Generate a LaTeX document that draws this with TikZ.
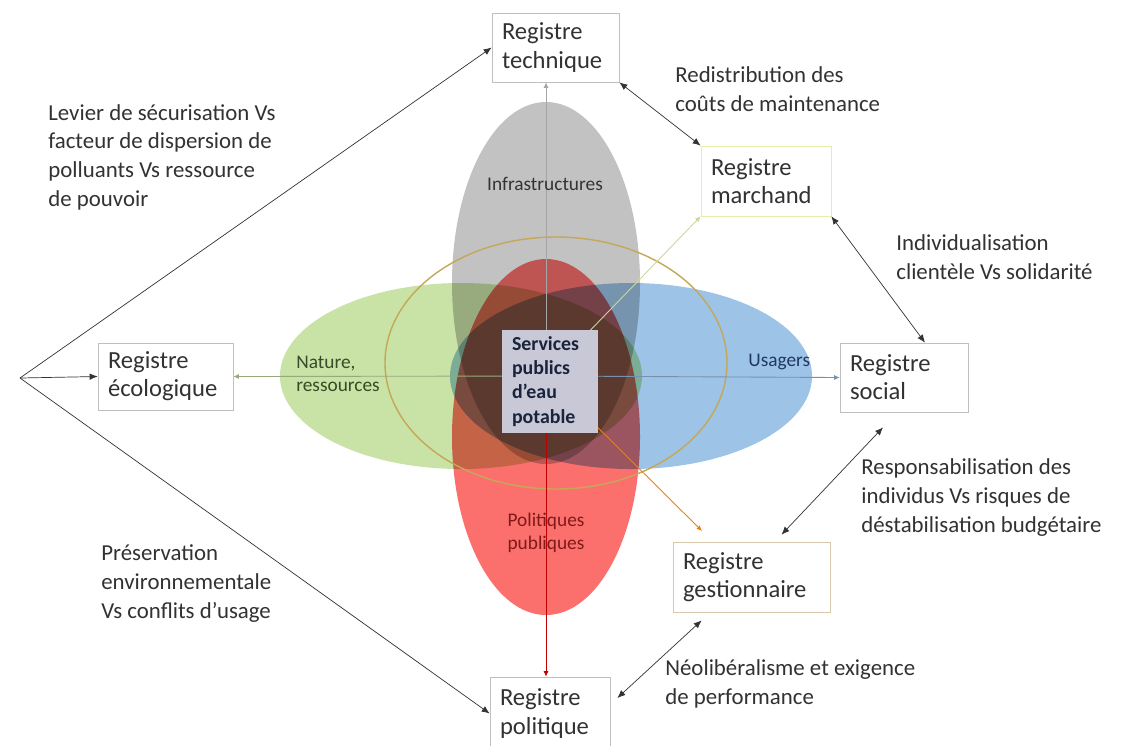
\documentclass[tikz,border=0pt]{standalone}
\usepackage{fontspec}
\setmainfont{Carlito}
\usetikzlibrary{arrows.meta}

\definecolor{infra}{RGB}{194,194,194}
\definecolor{natur}{RGB}{201,226,166}
\definecolor{usag}{RGB}{157,195,230}
\definecolor{polit}{RGB}{251,112,108}
\definecolor{cercle}{RGB}{196,168,88}
\definecolor{txt}{RGB}{50,50,50}
\definecolor{serv}{RGB}{200,200,214}
\definecolor{servtxt}{RGB}{25,35,60}
\definecolor{march}{RGB}{226,240,170}
\definecolor{gest}{RGB}{214,200,170}

\begin{document}
\begin{tikzpicture}[x=0.02cm, y=-0.02cm,
  reg/.style={draw=black!25, fill=white, rectangle, inner xsep=0.2cm, inner ysep=0pt, text=txt, font=\fontsize{14}{16}\selectfont, align=left},
  note/.style={anchor=base west, inner sep=0pt, text=txt, font=\fontsize{13}{16.3}\selectfont, align=left},
  lab/.style={inner sep=0pt, font=\fontsize{11}{13}\selectfont},
  fl/.style={-{Latex[length=1.6mm,width=1.3mm]}, black!80},
  dfl/.style={{Latex[length=1.6mm,width=1.3mm]}-{Latex[length=1.6mm,width=1.3mm]}, black!80},
  pt/.style={-{Latex[length=1.1mm,width=1mm]}, line width=0.5pt}]
	\clip (0,0) rectangle (1124,745);
	\fill[white] (0,0) rectangle (1124,745);
	% les quatre ellipses
	\begin{scope}[blend group=multiply]
	\fill[infra] (546,283) ellipse [x radius=94, y radius=181];
	\fill[natur] (461,376) ellipse [x radius=181, y radius=93];
	\fill[usag] (631,376) ellipse [x radius=181, y radius=93];
	\fill[polit] (546,437) ellipse [x radius=94, y radius=178];
	\end{scope}
	\draw[cercle, line width=0.8pt] (556,363) ellipse [x radius=171, y radius=126];

	\node[reg, text width=2.14cm, minimum height=1.38cm] (tech) at (555.5,47.5) {Registre\\technique};
	\node[reg, draw=march, text width=2.2cm, minimum height=1.4cm] (march) at (766,181) {Registre\\marchand};
	\node[reg, text width=2.3cm, minimum height=1.34cm] (eco) at (165.5,376.5) {Registre\\écologique};
	\node[reg, text width=2.16cm, minimum height=1.38cm] (soc) at (904,377.5) {Registre\\social};
	\node[reg, draw=gest, text width=2.74cm, minimum height=1.4cm] (gest) at (751.5,577) {Registre\\gestionnaire};
	\node[reg, text width=2cm, minimum height=1.46cm] (pol) at (550,713.5) {Registre\\politique};

	% fleches depuis le centre
	\coordinate (c0) at (546,376);
	\coordinate (gtip) at (702,531);
	\draw[pt, black!35] (c0) -- (c0 |- tech.south);
	\draw[pt, red!75!black] (c0) -- (c0 |- pol.north);
	\draw[pt, natur!75!black] (c0) -- (eco.east);
	\draw[pt, usag!75!black] (c0) -- (soc.west);
	\draw[pt, march!90!black] (c0) -- (march.south west);
	\draw[pt, orange!70!brown] (c0) -- (gtip);

	\node[fill=serv, inner xsep=0.2cm, inner ysep=0pt, text width=1.52cm, minimum height=2.06cm, text=servtxt, font=\bfseries\fontsize{11.3}{13.7}\selectfont, align=left] (ctr) at (550,381.5) {Services\\publics\\d’eau\\potable};

	\node[lab, text=black!80] (linfra) at (545,184) {Infrastructures};
	\node[lab, anchor=west, align=left, text={rgb,255:red,56;green,74;blue,40}] (lnat) at (296,374) {Nature,\\ressources};
	\node[lab, anchor=west, text={rgb,255:red,32;green,56;blue,100}] (lusag) at (748,362) {Usagers};
	\node[lab, align=center, text={rgb,255:red,127;green,26;blue,26}] (lpol) at (546,533) {Politiques\\publiques};

	% eventail a gauche
	\coordinate (fan) at (20,378);
	\draw[fl] (fan) -- (tech.west);
	\draw[fl] (fan) -- (eco.west);
	\draw[fl] (fan) -- (pol.west);

	% fleches doubles
	\draw[dfl] (tech.south east) -- (march.north west);
	\draw[dfl] (march.south east) -- ([xshift=0.42cm]soc.north);
	\draw[dfl] ([xshift=-0.42cm,yshift=-0.3cm]soc.south) -- ([xshift=0.6cm,yshift=0.14cm]gest.north);
	\draw[dfl] ([xshift=0.58cm,yshift=-0.16cm]gest.south west) -- ([xshift=0.14cm,yshift=0.31cm]pol.east);

	% textes (ancre sur la derniere ligne)
	\node[note] (n1) at (48,206) {Levier de sécurisation Vs\\facteur de dispersion de\\polluants Vs ressource\\de pouvoir};
	\node[note] (n2) at (675,111) {Redistribution des\\coûts de maintenance};
	\node[note] (n3) at (896,279) {Individualisation\\clientèle Vs solidarité};
	\node[note] (n4) at (861,532) {Responsabilisation des\\individus Vs risques de\\déstabilisation budgétaire};
	\node[note] (n5) at (665,704) {Néolibéralisme et exigence\\de performance};
	\node[note] (n6) at (101,618) {Préservation\\environnementale\\Vs conflits d’usage};
\end{tikzpicture}
\end{document}
